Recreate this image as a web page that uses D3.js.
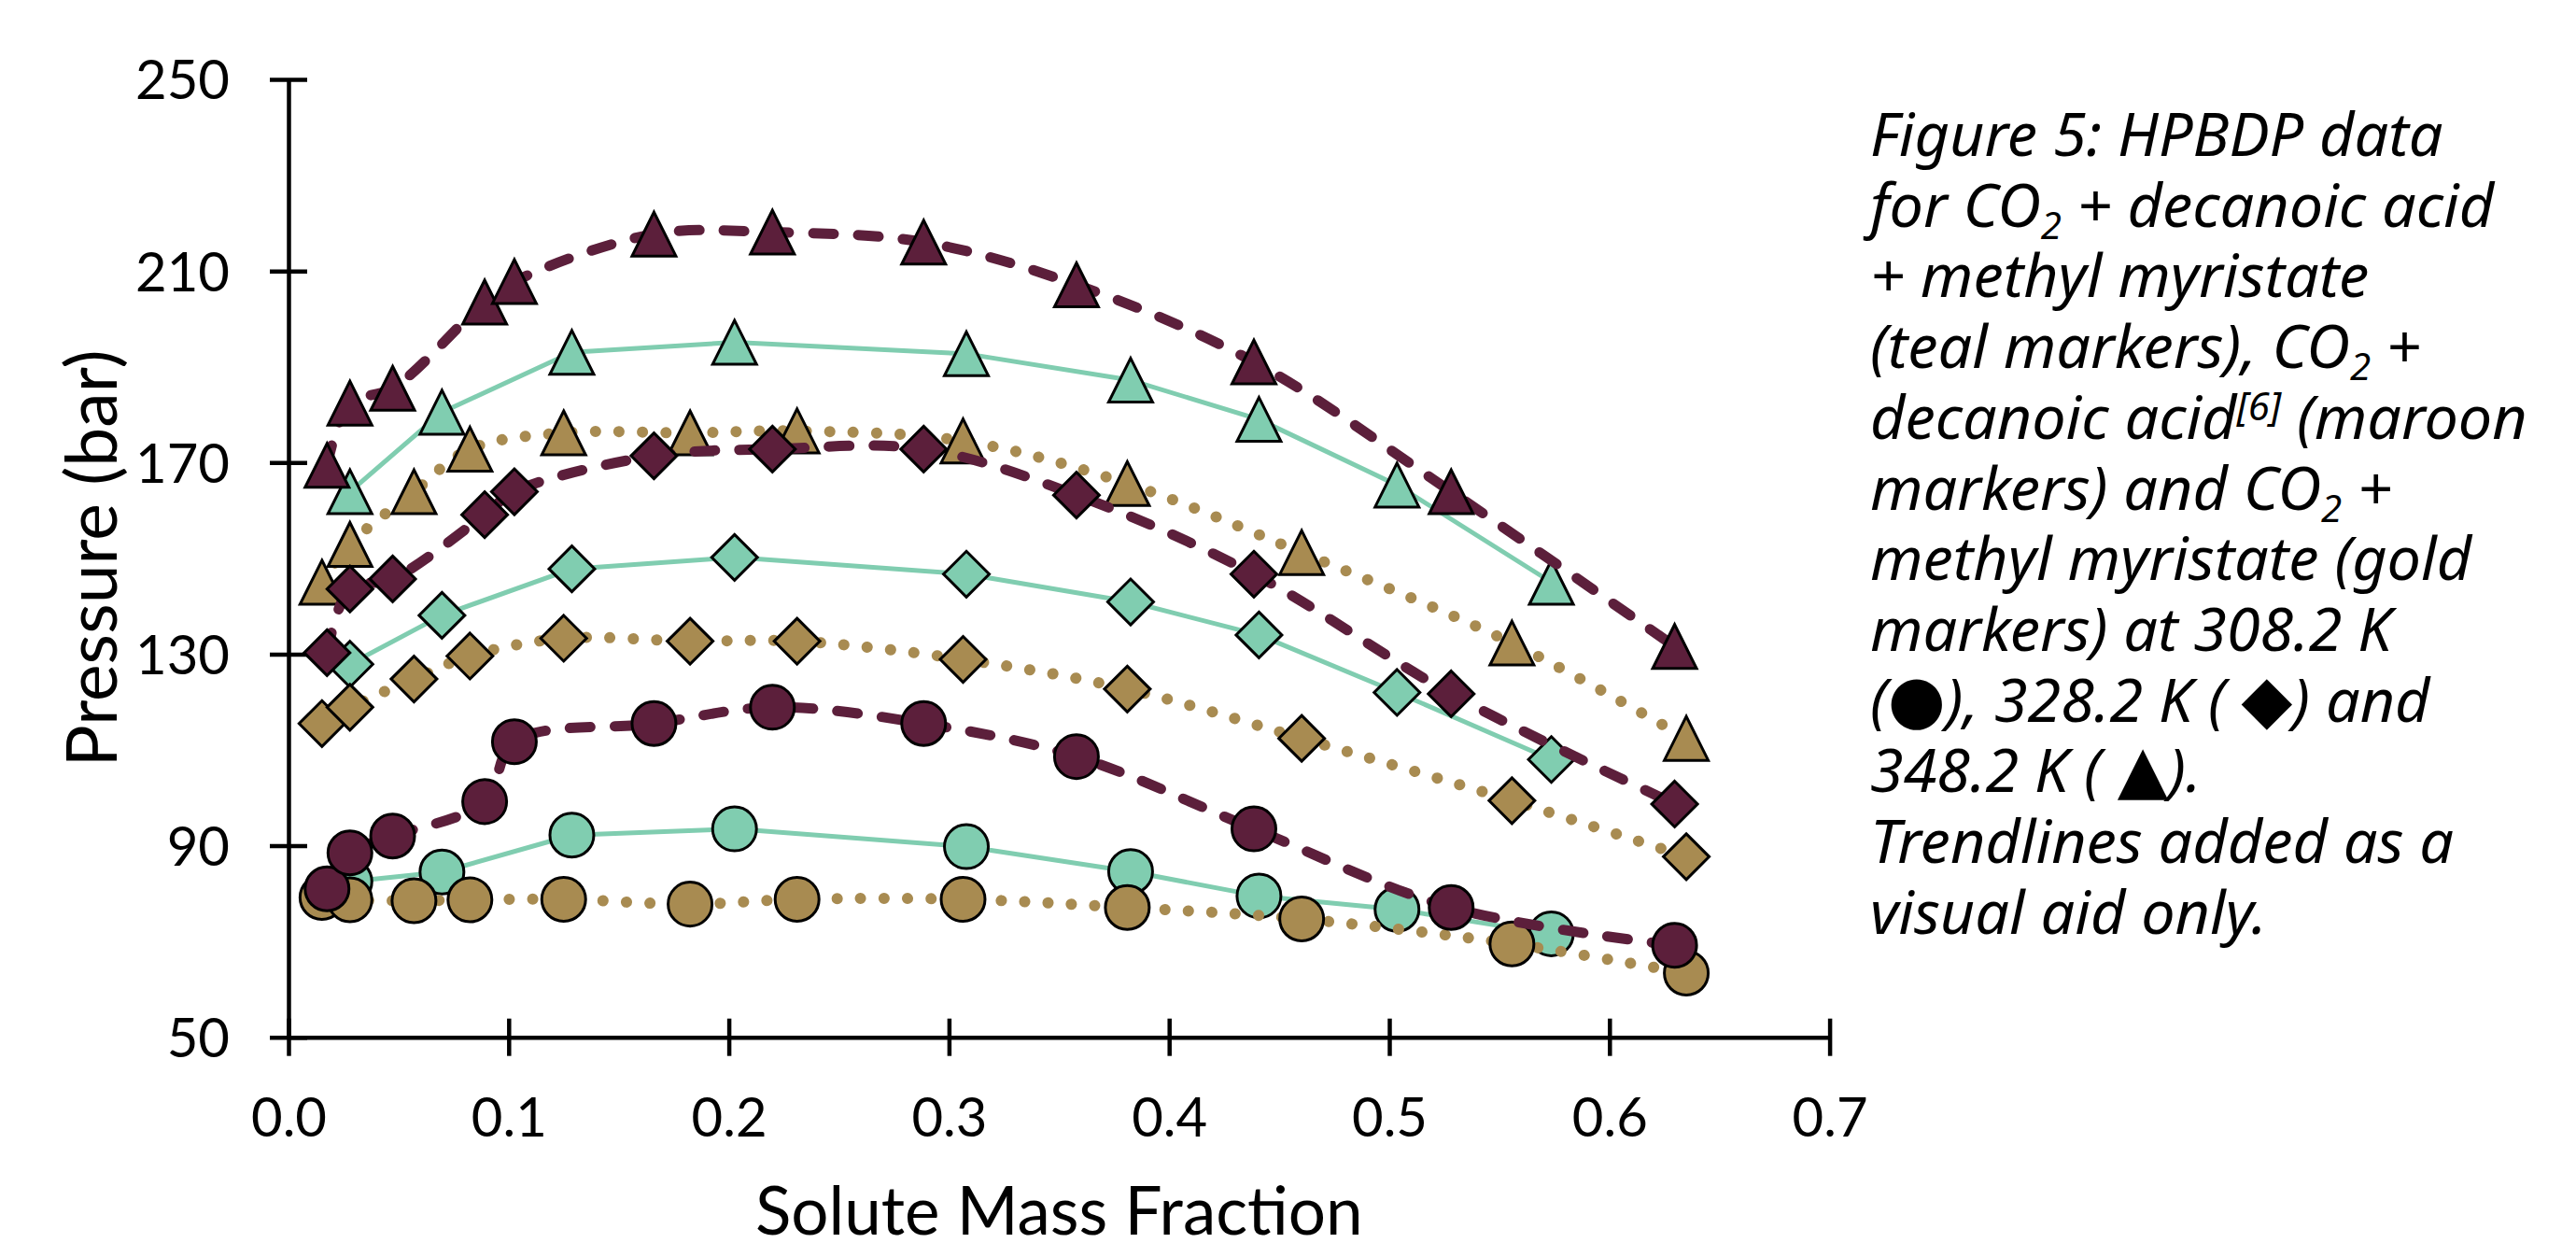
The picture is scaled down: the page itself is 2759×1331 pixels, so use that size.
<!DOCTYPE html>
<html><head><meta charset="utf-8">
<script src="https://cdn.jsdelivr.net/npm/d3@7"></script>
<style>html,body{margin:0;padding:0;background:#fff;overflow:hidden}</style>
</head><body><svg id="c" width="2759" height="1331" xmlns="http://www.w3.org/2000/svg"></svg>
<script>
// ---------- data ----------
const xTicks = [0, 0.1, 0.2, 0.3, 0.4, 0.5, 0.6, 0.7];
const yTicks = [50, 90, 130, 170, 210, 250];

// CO2 + decanoic acid + methyl myristate (teal)
const xMixture = [0.0279, 0.0697, 0.1287, 0.2026, 0.3079, 0.3825, 0.4408, 0.5035, 0.5736];
const mix308 = [82.5, 84.5, 92.2, 93.5, 89.8, 84.6, 79.5, 76.7, 71.6];
const mix328 = [127.9, 138.1, 147.8, 150.2, 146.7, 140.9, 134.0, 122.0, 108.0];
const mix348 = [163.9, 180.5, 193.0, 195.1, 192.7, 187.2, 179.0, 165.3, 145.0];

// CO2 + decanoic acid (maroon)
const xAcid = [0.0175, 0.0279, 0.0473, 0.0891, 0.1026, 0.166, 0.2198, 0.2885, 0.3579, 0.4385, 0.5281, 0.6296];
const acid308 = [81.0, 88.5, 92.0, 99.2, 111.7, 115.5, 118.9, 115.5, 108.6, 93.5, 77.1, 69.2];
const acid328 = [130.3, 143.6, 145.7, 159.1, 163.9, 171.4, 172.8, 172.8, 163.2, 146.7, 121.7, 98.7];
const acid348 = [169.4, 182.4, 185.5, 203.5, 207.8, 217.7, 218.1, 216.0, 207.1, 191.0, 163.9, 131.6];

// CO2 + methyl myristate (gold)
const xEster = [0.0152, 0.0279, 0.057, 0.0824, 0.125, 0.1824, 0.231, 0.3064, 0.381, 0.4602, 0.5557, 0.6349];
const ester308 = [79.2, 78.7, 78.5, 78.7, 78.8, 77.8, 78.8, 78.8, 77.1, 74.7, 69.5, 63.4];
const ester328 = [115.5, 118.9, 124.8, 129.6, 133.3, 132.7, 132.7, 128.9, 122.7, 112.4, 99.4, 87.7];
const ester348 = [145.0, 152.9, 163.9, 172.8, 176.2, 176.2, 176.6, 174.5, 165.6, 151.2, 132.3, 112.4];

const captionLines = [
  [["Figure 5: HPBDP data"]],
  [["for CO"], ["2", "sub"], [" + decanoic acid"]],
  [["+ methyl myristate"]],
  [["(teal markers), CO"], ["2", "sub"], [" +"]],
  [["decanoic acid"], ["[6]", "sup"], [" (maroon"]],
  [["markers) and CO"], ["2", "sub"], [" +"]],
  [["methyl myristate (gold"]],
  [["markers) at 308.2 K"]],
  [["("], ["\u25CF", "sym"], ["), 328.2 K ( "], ["\u25C6", "sym"], [") and"]],
  [["348.2 K ( "], ["\u25B2", "sym"], [")."]],
  [["Trendlines added as a"]],
  [["visual aid only."]]
];
// measured widths of the caption lines in the reference (for font sizing)
const captionWidths = [585, 668, 550, 582, 693, 553, 663, 582, 610, 386, 621, 425];

// ---------- chart ----------
const svg = d3.select("#c");
svg.append("rect").attr("width", 2759).attr("height", 1331).attr("fill", "#fff");

const x = d3.scaleLinear().domain([0, 0.7]).range([309, 1959.6]);
const y = d3.scaleLinear().domain([50, 250]).range([1110.7, 85]);

const AX_FONT = "Lato, 'Open Sans', sans-serif";

// y axis
const gy = svg.append("g").attr("transform", `translate(${x(0)},0)`)
  .call(d3.axisLeft(y).tickValues(yTicks).tickFormat(d3.format("d")).tickSizeOuter(0).tickSizeInner(20));
gy.select(".domain").attr("stroke", "#000").attr("stroke-width", 4.5);
gy.selectAll(".tick line").attr("x1", -20).attr("x2", 20).attr("stroke", "#000").attr("stroke-width", 4.5);
gy.selectAll(".tick text").attr("x", -63).attr("dy", "0.36em")
  .attr("font-family", AX_FONT).attr("font-size", 58).attr("fill", "#000");

// x axis
const gx = svg.append("g").attr("transform", `translate(0,${y(50)})`)
  .call(d3.axisBottom(x).tickValues(xTicks).tickFormat(d3.format(".1f")).tickSizeOuter(0).tickSizeInner(20));
gx.select(".domain").attr("stroke", "#000").attr("stroke-width", 4.5);
gx.selectAll(".tick line").attr("y1", -20).attr("y2", 20).attr("stroke", "#000").attr("stroke-width", 4.5);
gx.selectAll(".tick text").attr("y", 106).attr("dy", 0)
  .attr("font-family", AX_FONT).attr("font-size", 58).attr("fill", "#000");

function fit(sel, target) {
  const len = sel.node().getComputedTextLength();
  const fs = +sel.attr("font-size");
  sel.attr("font-size", fs * target / len);
  return fs * target / len;
}

// axis titles
const yt = svg.append("text").attr("font-family", AX_FONT).attr("font-size", 70)
  .attr("text-anchor", "middle").attr("fill", "#000")
  .attr("transform", `translate(125,${(y(50) + y(250)) / 2}) rotate(-90)`)
  .text("Pressure (bar)");
fit(yt, 447);

const xt = svg.append("text").attr("font-family", AX_FONT).attr("font-size", 70)
  .attr("text-anchor", "middle").attr("fill", "#000")
  .attr("x", (x(0) + x(0.7)) / 2)
  .text("Solute Mass Fraction");
const xfs = fit(xt, 651);
xt.attr("y", 1271 + 0.7165 * xfs);

// series
const styles = {
  teal:   { fill: "#80CDB0", stroke: "#80CDB0", width: 5,  dash: null,     cap: "butt",  curve: d3.curveLinear },
  gold:   { fill: "#A88B51", stroke: "#A88B51", width: 12, dash: "0.1 25", cap: "round", curve: d3.curveCatmullRom.alpha(0.5) },
  maroon: { fill: "#5C1F3B", stroke: "#5C1F3B", width: 11, dash: "22 26",  cap: "round", curve: d3.curveCatmullRom.alpha(0.5) }
};

const series = [
  { xs: xMixture, ys: mix308, shape: "circle", sys: "teal" },
  { xs: xMixture, ys: mix328, shape: "diamond", sys: "teal" },
  { xs: xMixture, ys: mix348, shape: "triangle", sys: "teal" },
  { xs: xEster, ys: ester308, shape: "circle", sys: "gold" },
  { xs: xEster, ys: ester328, shape: "diamond", sys: "gold" },
  { xs: xEster, ys: ester348, shape: "triangle", sys: "gold" },
  { xs: xAcid, ys: acid308, shape: "circle", sys: "maroon" },
  { xs: xAcid, ys: acid328, shape: "diamond", sys: "maroon" },
  { xs: xAcid, ys: acid348, shape: "triangle", sys: "maroon" }
];

const shapes = {
  circle: r => `M${-r},0A${r},${r} 0 1,0 ${r},0A${r},${r} 0 1,0 ${-r},0Z`,
  diamond: r => `M0,${-r}L${r},0L0,${r}L${-r},0Z`,
  triangle: r => `M0,${-r}L${r},${r}L${-r},${r}Z`
};
const sizes = { circle: 23.5, diamond: 24.5, triangle: 23.5 };

series.forEach(s => {
  const st = styles[s.sys];
  const pts = s.xs.map((xv, i) => [xv, s.ys[i]]);
  const line = d3.line().x(d => x(d[0])).y(d => y(d[1])).curve(st.curve);
  const g = svg.append("g");
  g.append("path").attr("d", line(pts)).attr("fill", "none")
    .attr("stroke", st.stroke).attr("stroke-width", st.width)
    .attr("stroke-linecap", st.cap).attr("stroke-linejoin", "round")
    .attr("stroke-dasharray", st.dash);
  g.selectAll("path.m").data(pts).join("path").attr("class", "m")
    .attr("transform", d => `translate(${x(d[0])},${y(d[1])})`)
    .attr("d", shapes[s.shape](sizes[s.shape]))
    .attr("fill", st.fill).attr("stroke", "#000").attr("stroke-width", 3)
    .attr("stroke-linejoin", "miter");
});

// caption
const CAP_FONT = "'Noto Sans', 'Open Sans', sans-serif";
const capG = svg.append("g").attr("font-family", CAP_FONT).attr("font-style", "italic").attr("fill", "#000");
const capX = 2003, capY0 = 167, capDY = 75.7;
const lines = captionLines.map((segs, i) => {
  const t = capG.append("text").attr("x", capX).attr("y", capY0 + i * capDY).attr("font-size", 50);
  let prev = null;
  segs.forEach(([txt, kind]) => {
    const ts = t.append("tspan").text(txt);
    if (kind === "sub") ts.attr("font-size", "62%").attr("dy", 13);
    else if (kind === "sup") ts.attr("font-size", "65%").attr("dy", -20);
    else if (kind === "sym") ts.attr("font-family", "'DejaVu Sans', sans-serif").attr("font-size", "110%");
    else if (prev === "sub") ts.attr("dy", -13);
    else if (prev === "sup") ts.attr("dy", 20);
    prev = kind;
  });
  return t;
});
// size the caption font so that the lines match the reference widths overall
const textIdx = [0, 1, 2, 3, 4, 5, 6, 7, 10, 11];
let measured = 0, target = 0;
textIdx.forEach(i => { measured += lines[i].node().getComputedTextLength(); target += captionWidths[i]; });
const capFs = 50 * target / measured;
lines.forEach(t => t.attr("font-size", capFs));
</script>
</body></html>
